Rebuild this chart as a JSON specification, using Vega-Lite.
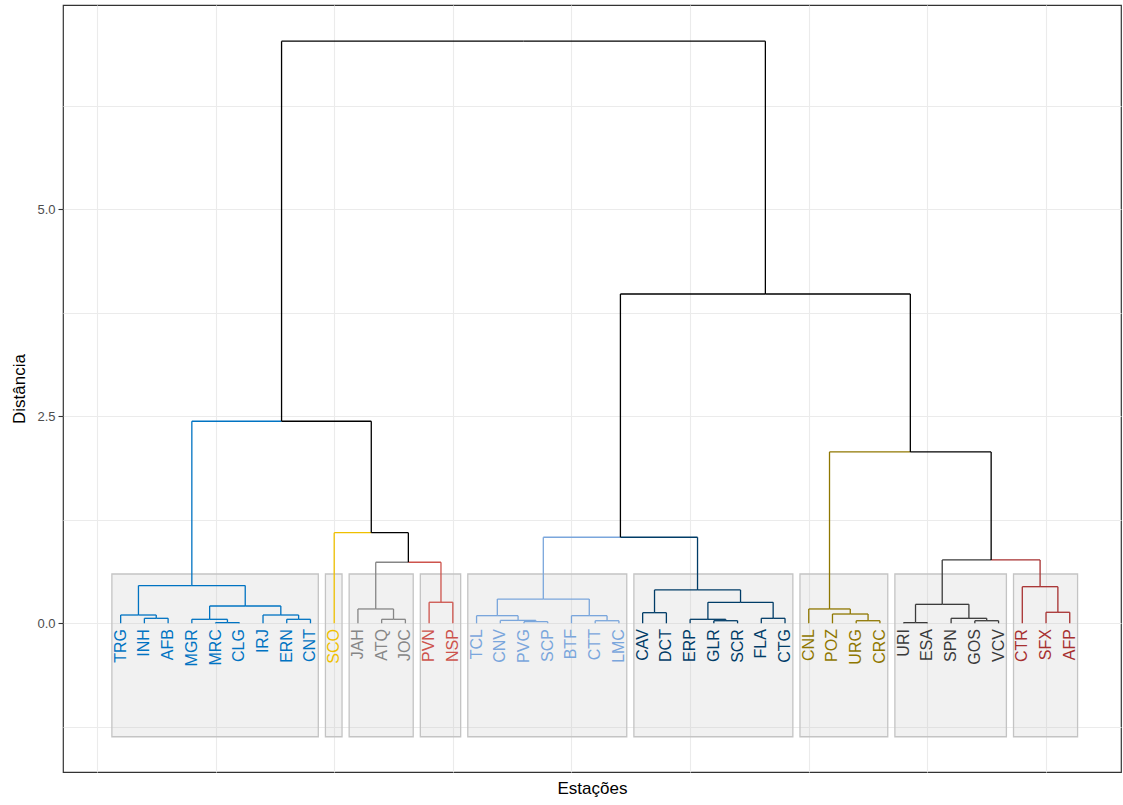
{
  "$schema": "https://vega.github.io/schema/vega-lite/v6.json",
  "width": 1058,
  "height": 767,
  "autosize": {"type": "none"},
  "padding": {"left": 63, "top": 5, "right": 2, "bottom": 33},
  "background": "white",
  "config": {
    "font": "Liberation Sans",
    "view": {"stroke": "#333333", "strokeWidth": 1.2},
    "axis": {"gridColor": "#ebebeb", "gridWidth": 1.1, "gridOpacity": 1, "domain": false}
  },
  "datasets": {
    "edges": [
      {"px": 2.5, "ph": 0.06, "cx": 2, "ch": 0, "g": "c1"},
      {"px": 2.5, "ph": 0.06, "cx": 3, "ch": 0, "g": "c1"},
      {"px": 1.75, "ph": 0.10, "cx": 1, "ch": 0, "g": "c1"},
      {"px": 1.75, "ph": 0.10, "cx": 2.5, "ch": 0.06, "g": "c1"},
      {"px": 5.5, "ph": 0.008, "cx": 5, "ch": 0, "g": "c1"},
      {"px": 5.5, "ph": 0.008, "cx": 6, "ch": 0, "g": "c1"},
      {"px": 4.75, "ph": 0.048, "cx": 4, "ch": 0, "g": "c1"},
      {"px": 4.75, "ph": 0.048, "cx": 5.5, "ch": 0.008, "g": "c1"},
      {"px": 8.5, "ph": 0.048, "cx": 8, "ch": 0, "g": "c1"},
      {"px": 8.5, "ph": 0.048, "cx": 9, "ch": 0, "g": "c1"},
      {"px": 7.75, "ph": 0.10, "cx": 7, "ch": 0, "g": "c1"},
      {"px": 7.75, "ph": 0.10, "cx": 8.5, "ch": 0.048, "g": "c1"},
      {"px": 6.25, "ph": 0.209, "cx": 4.75, "ch": 0.048, "g": "c1"},
      {"px": 6.25, "ph": 0.209, "cx": 7.75, "ch": 0.10, "g": "c1"},
      {"px": 4.0, "ph": 0.456, "cx": 1.75, "ch": 0.10, "g": "c1"},
      {"px": 4.0, "ph": 0.456, "cx": 6.25, "ch": 0.209, "g": "c1"},
      {"px": 7.78125, "ph": 2.44, "cx": 4.0, "ch": 0.456, "g": "c1"},
      {"px": 7.78125, "ph": 2.44, "cx": 11.5625, "ch": 1.094, "g": "k"},
      {"px": 11.5625, "ph": 1.094, "cx": 10, "ch": 0, "g": "c2"},
      {"px": 11.5625, "ph": 1.094, "cx": 13.125, "ch": 0.737, "g": "k"},
      {"px": 13.125, "ph": 0.737, "cx": 11.75, "ch": 0.173, "g": "c3"},
      {"px": 13.125, "ph": 0.737, "cx": 14.5, "ch": 0.254, "g": "c4"},
      {"px": 11.75, "ph": 0.173, "cx": 11, "ch": 0, "g": "c3"},
      {"px": 11.75, "ph": 0.173, "cx": 12.5, "ch": 0.048, "g": "c3"},
      {"px": 12.5, "ph": 0.048, "cx": 12, "ch": 0, "g": "c3"},
      {"px": 12.5, "ph": 0.048, "cx": 13, "ch": 0, "g": "c3"},
      {"px": 14.5, "ph": 0.254, "cx": 14, "ch": 0, "g": "c4"},
      {"px": 14.5, "ph": 0.254, "cx": 15, "ch": 0, "g": "c4"},
      {"px": 18.5, "ph": 0.02, "cx": 18, "ch": 0, "g": "c5"},
      {"px": 18.5, "ph": 0.02, "cx": 19, "ch": 0, "g": "c5"},
      {"px": 17.75, "ph": 0.035, "cx": 17, "ch": 0, "g": "c5"},
      {"px": 17.75, "ph": 0.035, "cx": 18.5, "ch": 0.02, "g": "c5"},
      {"px": 16.875, "ph": 0.092, "cx": 16, "ch": 0, "g": "c5"},
      {"px": 16.875, "ph": 0.092, "cx": 17.75, "ch": 0.035, "g": "c5"},
      {"px": 21.5, "ph": 0.031, "cx": 21, "ch": 0, "g": "c5"},
      {"px": 21.5, "ph": 0.031, "cx": 22, "ch": 0, "g": "c5"},
      {"px": 20.75, "ph": 0.092, "cx": 20, "ch": 0, "g": "c5"},
      {"px": 20.75, "ph": 0.092, "cx": 21.5, "ch": 0.031, "g": "c5"},
      {"px": 18.8125, "ph": 0.293, "cx": 16.875, "ch": 0.092, "g": "c5"},
      {"px": 18.8125, "ph": 0.293, "cx": 20.75, "ch": 0.092, "g": "c5"},
      {"px": 23.5, "ph": 0.128, "cx": 23, "ch": 0, "g": "c6"},
      {"px": 23.5, "ph": 0.128, "cx": 24, "ch": 0, "g": "c6"},
      {"px": 26.5, "ph": 0.031, "cx": 26, "ch": 0, "g": "c6"},
      {"px": 26.5, "ph": 0.031, "cx": 27, "ch": 0, "g": "c6"},
      {"px": 25.75, "ph": 0.048, "cx": 25, "ch": 0, "g": "c6"},
      {"px": 25.75, "ph": 0.048, "cx": 26.5, "ch": 0.031, "g": "c6"},
      {"px": 28.5, "ph": 0.06, "cx": 28, "ch": 0, "g": "c6"},
      {"px": 28.5, "ph": 0.06, "cx": 29, "ch": 0, "g": "c6"},
      {"px": 27.125, "ph": 0.253, "cx": 25.75, "ch": 0.048, "g": "c6"},
      {"px": 27.125, "ph": 0.253, "cx": 28.5, "ch": 0.06, "g": "c6"},
      {"px": 25.3125, "ph": 0.403, "cx": 23.5, "ch": 0.128, "g": "c6"},
      {"px": 25.3125, "ph": 0.403, "cx": 27.125, "ch": 0.253, "g": "c6"},
      {"px": 22.0625, "ph": 1.039, "cx": 18.8125, "ch": 0.293, "g": "c5"},
      {"px": 22.0625, "ph": 1.039, "cx": 25.3125, "ch": 0.403, "g": "c6"},
      {"px": 32.5, "ph": 0.031, "cx": 32, "ch": 0, "g": "c7"},
      {"px": 32.5, "ph": 0.031, "cx": 33, "ch": 0, "g": "c7"},
      {"px": 31.75, "ph": 0.112, "cx": 31, "ch": 0, "g": "c7"},
      {"px": 31.75, "ph": 0.112, "cx": 32.5, "ch": 0.031, "g": "c7"},
      {"px": 30.875, "ph": 0.173, "cx": 30, "ch": 0, "g": "c7"},
      {"px": 30.875, "ph": 0.173, "cx": 31.75, "ch": 0.112, "g": "c7"},
      {"px": 34.5, "ph": 0.008, "cx": 34, "ch": 0, "g": "c8"},
      {"px": 34.5, "ph": 0.008, "cx": 35, "ch": 0, "g": "c8"},
      {"px": 37.5, "ph": 0.031, "cx": 37, "ch": 0, "g": "c8"},
      {"px": 37.5, "ph": 0.031, "cx": 38, "ch": 0, "g": "c8"},
      {"px": 36.75, "ph": 0.06, "cx": 36, "ch": 0, "g": "c8"},
      {"px": 36.75, "ph": 0.06, "cx": 37.5, "ch": 0.031, "g": "c8"},
      {"px": 35.625, "ph": 0.229, "cx": 34.5, "ch": 0.008, "g": "c8"},
      {"px": 35.625, "ph": 0.229, "cx": 36.75, "ch": 0.06, "g": "c8"},
      {"px": 40.5, "ph": 0.133, "cx": 40, "ch": 0, "g": "c9"},
      {"px": 40.5, "ph": 0.133, "cx": 41, "ch": 0, "g": "c9"},
      {"px": 39.75, "ph": 0.442, "cx": 39, "ch": 0, "g": "c9"},
      {"px": 39.75, "ph": 0.442, "cx": 40.5, "ch": 0.133, "g": "c9"},
      {"px": 37.6875, "ph": 0.765, "cx": 35.625, "ch": 0.229, "g": "c8"},
      {"px": 37.6875, "ph": 0.765, "cx": 39.75, "ch": 0.442, "g": "c9"},
      {"px": 34.28125, "ph": 2.07, "cx": 30.875, "ch": 0.173, "g": "c7"},
      {"px": 34.28125, "ph": 2.07, "cx": 37.6875, "ch": 0.765, "g": "k"},
      {"px": 28.171875, "ph": 3.977, "cx": 22.0625, "ch": 1.039, "g": "k"},
      {"px": 28.171875, "ph": 3.977, "cx": 34.28125, "ch": 2.07, "g": "k"},
      {"px": 17.9765625, "ph": 7.03, "cx": 7.78125, "ch": 2.44, "g": "k"},
      {"px": 17.9765625, "ph": 7.03, "cx": 28.171875, "ch": 3.977, "g": "k"}
    ],
    "leaves": [
      {"pos": 1, "label": "TRG", "g": "c1"}, {"pos": 2, "label": "INH", "g": "c1"},
      {"pos": 3, "label": "AFB", "g": "c1"}, {"pos": 4, "label": "MGR", "g": "c1"},
      {"pos": 5, "label": "MRC", "g": "c1"}, {"pos": 6, "label": "CLG", "g": "c1"},
      {"pos": 7, "label": "IRJ", "g": "c1"}, {"pos": 8, "label": "ERN", "g": "c1"},
      {"pos": 9, "label": "CNT", "g": "c1"}, {"pos": 10, "label": "SCO", "g": "c2"},
      {"pos": 11, "label": "JAH", "g": "c3"}, {"pos": 12, "label": "ATQ", "g": "c3"},
      {"pos": 13, "label": "JOC", "g": "c3"}, {"pos": 14, "label": "PVN", "g": "c4"},
      {"pos": 15, "label": "NSP", "g": "c4"}, {"pos": 16, "label": "TCL", "g": "c5"},
      {"pos": 17, "label": "CNV", "g": "c5"}, {"pos": 18, "label": "PVG", "g": "c5"},
      {"pos": 19, "label": "SCP", "g": "c5"}, {"pos": 20, "label": "BTF", "g": "c5"},
      {"pos": 21, "label": "CTT", "g": "c5"}, {"pos": 22, "label": "LMC", "g": "c5"},
      {"pos": 23, "label": "CAV", "g": "c6"}, {"pos": 24, "label": "DCT", "g": "c6"},
      {"pos": 25, "label": "ERP", "g": "c6"}, {"pos": 26, "label": "GLR", "g": "c6"},
      {"pos": 27, "label": "SCR", "g": "c6"}, {"pos": 28, "label": "FLA", "g": "c6"},
      {"pos": 29, "label": "CTG", "g": "c6"}, {"pos": 30, "label": "CNL", "g": "c7"},
      {"pos": 31, "label": "POZ", "g": "c7"}, {"pos": 32, "label": "URG", "g": "c7"},
      {"pos": 33, "label": "CRC", "g": "c7"}, {"pos": 34, "label": "URI", "g": "c8"},
      {"pos": 35, "label": "ESA", "g": "c8"}, {"pos": 36, "label": "SPN", "g": "c8"},
      {"pos": 37, "label": "GOS", "g": "c8"}, {"pos": 38, "label": "VCV", "g": "c8"},
      {"pos": 39, "label": "CTR", "g": "c9"}, {"pos": 40, "label": "SFX", "g": "c9"},
      {"pos": 41, "label": "AFP", "g": "c9"}
    ],
    "clusters": [
      {"g": "c1", "xmin": 0.63, "xmax": 9.33},
      {"g": "c2", "xmin": 9.63, "xmax": 10.33},
      {"g": "c3", "xmin": 10.63, "xmax": 13.33},
      {"g": "c4", "xmin": 13.63, "xmax": 15.33},
      {"g": "c5", "xmin": 15.63, "xmax": 22.33},
      {"g": "c6", "xmin": 22.63, "xmax": 29.33},
      {"g": "c7", "xmin": 29.63, "xmax": 33.33},
      {"g": "c8", "xmin": 33.63, "xmax": 38.33},
      {"g": "c9", "xmin": 38.63, "xmax": 41.33}
    ]
  },
  "layer": [
    {
      "data": {"name": "clusters"},
      "mark": {"type": "rect", "fill": "#bebebe", "fillOpacity": 0.22, "stroke": "#c4c4c4", "strokeWidth": 1.3},
      "encoding": {
        "x": {
          "field": "xmin", "type": "quantitative",
          "scale": {"domain": [-1.43, 43.16], "nice": false, "zero": false},
          "axis": {
            "values": [0, 5, 10, 15, 20, 25, 30, 35, 40],
            "labels": false, "ticks": false, "grid": true,
            "title": "Estações", "titleFontSize": 17, "titleFontWeight": "normal",
            "titleColor": "#000000", "titlePadding": 8
          }
        },
        "x2": {"field": "xmax"},
        "y": {
          "datum": 0.595, "type": "quantitative",
          "scale": {"domain": [-1.796, 7.467], "nice": false, "zero": false},
          "axis": {
            "values": [-1.25, 0, 1.25, 2.5, 3.75, 5, 6.25],
            "grid": true,
            "labelExpr": "datum.value % 2.5 == 0 ? format(datum.value, '.1f') : ''",
            "labelFontSize": 13, "labelColor": "#4d4d4d", "labelPadding": 3,
            "tickColor": "#333333", "tickSize": 5, "tickWidth": 1.1,
            "tickOpacity": {"condition": {"test": "datum.value % 2.5 == 0", "value": 1}, "value": 0},
            "title": "Distância", "titleFontSize": 17, "titleFontWeight": "normal",
            "titleColor": "#000000", "titlePadding": 8
          }
        },
        "y2": {"datum": -1.37}
      }
    },
    {
      "data": {"name": "edges"},
      "mark": {"type": "rule", "strokeWidth": 1.3},
      "encoding": {
        "x": {"field": "px", "type": "quantitative"},
        "x2": {"field": "cx"},
        "y": {"field": "ph", "type": "quantitative"},
        "color": {"field": "g", "type": "nominal", "legend": null,
          "scale": {"domain": ["c1", "c2", "c3", "c4", "c5", "c6", "c7", "c8", "c9", "k"],
                    "range": ["#0073C2", "#EFC000", "#868686", "#CD534C", "#7AA6DC", "#003C67", "#8F7700", "#3B3B3B", "#A73030", "#000000"]}}
      }
    },
    {
      "data": {"name": "edges"},
      "mark": {"type": "rule", "strokeWidth": 1.3},
      "encoding": {
        "x": {"field": "cx", "type": "quantitative"},
        "y": {"field": "ph", "type": "quantitative"},
        "y2": {"field": "ch"},
        "color": {"field": "g", "type": "nominal", "legend": null}
      }
    },
    {
      "data": {"name": "leaves"},
      "mark": {"type": "text", "angle": 270, "align": "right", "baseline": "middle", "fontSize": 16},
      "encoding": {
        "x": {"field": "pos", "type": "quantitative"},
        "y": {"datum": -0.07, "type": "quantitative"},
        "text": {"field": "label"},
        "color": {"field": "g", "type": "nominal", "legend": null}
      }
    }
  ]
}
